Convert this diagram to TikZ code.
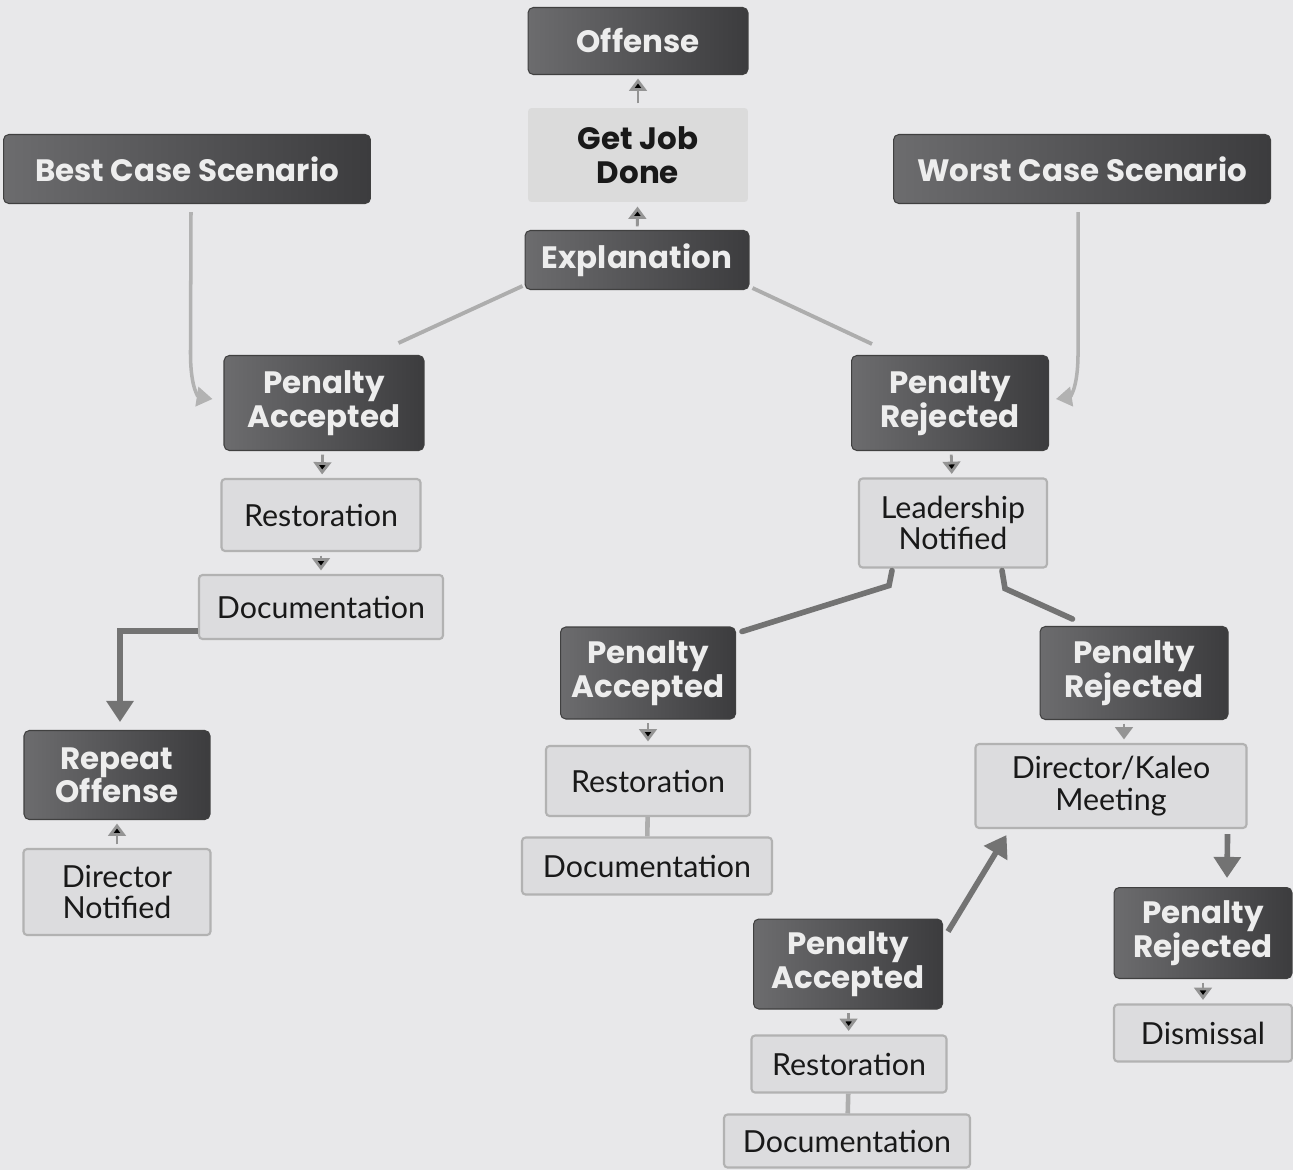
\documentclass[tikz,border=0pt]{standalone}
\usepackage{fontspec}
\newfontfamily\headfont{Poppins}
\newfontfamily\bodyfont{Lato}
\usepackage{tikz}
\usetikzlibrary{arrows.meta,calc}

\definecolor{bg}{RGB}{232,232,234}
\definecolor{darkL}{RGB}{108,108,110}
\definecolor{darkR}{RGB}{60,60,62}
\definecolor{lightbox}{RGB}{220,220,222}

\tikzset{
  dark/.style={rectangle, rounded corners=3pt, left color=darkL, right color=darkR,
    draw=black!75, line width=0.6pt, text=white!93!black, align=center, inner sep=2pt,
    font=\headfont\bfseries\fontsize{17.6}{19}\selectfont},
  light/.style={rectangle, rounded corners=2pt, fill=lightbox, draw=black!30, line width=1.2pt,
    text=black!90, align=center, inner sep=2pt, font=\bodyfont\fontsize{17.3}{17.8}\selectfont},
  tip/.style={draw=black!42, line width=1.6pt, -{Triangle[width=10pt,length=7pt]}, shorten <=2pt, shorten >=2pt},
  thin tip/.style={draw=black!30, line width=2pt, -{Triangle[width=11pt,length=9pt]}},
  bold tip/.style={draw=black!55, line width=3.2pt, -{Triangle[width=15pt,length=12pt]}},
  link/.style={draw=black!32, line width=2.2pt},
  bold link/.style={draw=black!55, line width=3.2pt}
}

\begin{document}
\begin{tikzpicture}[x=0.02cm, y=-0.02cm]
  \fill[bg] (0,0) rectangle (1293,1170);
  \useasboundingbox (0,0) rectangle (1293,1170);

  % top column
  \node[dark, minimum width=4.4cm, minimum height=1.34cm] (off) at (638,41) {Offense};
  \node[light, draw=none, fill=black!14, minimum width=4.4cm, minimum height=1.88cm,
    font=\headfont\bfseries\fontsize{17.6}{19}\selectfont] (job) at (638,155) {Get Job\\Done};
  \node[dark, minimum width=4.48cm, minimum height=1.18cm] (expl) at (637,260) {Explanation};
  \node[dark, minimum width=7.34cm, minimum height=1.38cm] (best) at (187,169) {Best Case Scenario};
  \node[dark, minimum width=7.54cm, minimum height=1.38cm] (worst) at (1082,169) {Worst Case Scenario};

  % best case branch
  \node[dark, minimum width=4.0cm, minimum height=1.9cm] (paL) at (324,403) {Penalty\\Accepted};
  \node[light, minimum width=3.98cm, minimum height=1.44cm] (resL) at (321,515) {Restoration};
  \node[light, minimum width=4.88cm, minimum height=1.28cm] (docL) at (321,607) {Documentation};
  \node[dark, minimum width=3.72cm, minimum height=1.78cm] (rep) at (117,775) {Repeat\\Offense};
  \node[light, minimum width=3.74cm, minimum height=1.72cm] (dirn) at (117,892) {Director\\Notified};

  % worst case branch
  \node[dark, minimum width=3.94cm, minimum height=1.9cm] (prR) at (950,403) {Penalty\\Rejected};
  \node[light, minimum width=3.76cm, minimum height=1.78cm] (lead) at (953,523) {Leadership\\Notified};
  \node[dark, minimum width=3.5cm, minimum height=1.84cm] (paM) at (648,673) {Penalty\\Accepted};
  \node[light, minimum width=4.08cm, minimum height=1.4cm] (resM) at (648,781) {Restoration};
  \node[light, minimum width=5.0cm, minimum height=1.14cm] (docM) at (647,866) {Documentation};
  \node[dark, minimum width=3.76cm, minimum height=1.86cm] (prR2) at (1134,673) {Penalty\\Rejected};
  \node[light, minimum width=5.42cm, minimum height=1.68cm] (dkm) at (1111,786) {Director/Kaleo\\Meeting};
  \node[dark, minimum width=3.56cm, minimum height=1.82cm] (prR3) at (1203,933) {Penalty\\Rejected};
  \node[light, minimum width=3.56cm, minimum height=1.14cm] (dism) at (1203,1033) {Dismissal};
  \node[dark, minimum width=3.78cm, minimum height=1.8cm] (paB) at (848,964) {Penalty\\Accepted};
  \node[light, minimum width=3.9cm, minimum height=1.14cm] (resB) at (849,1064) {Restoration};
  \node[light, minimum width=4.92cm, minimum height=1.06cm] (docB) at (847,1141) {Documentation};

  % connectors
  \path[tip]
    (job) edge (off)
    (expl) edge (job)
    (paL) edge (resL)
    (resL) edge (docL)
    (dirn) edge (rep)
    (prR) edge (lead)
    (paM) edge (resM)
    (prR3) edge (dism)
    (paB) edge (resB)
    ;
  \draw[tip] ([shift={(-10,0)}]prR2.south) -- ([shift={(13,0)}]dkm.north);
  \draw[link] ([shift={(-2,-4)}]expl.south west) -- ([shift={(-26,-12)}]paL.north east);
  \draw[link] ([shift={(3,-2)}]expl.south east) -- ([shift={(21,-11)}]prR.north west);
  \draw[link, line width=2.6pt] (resM) -- (docM);
  \draw[link, line width=2.6pt] (resB) -- (docB);

  \draw[thin tip] ([shift={(4,8)}]best.south) -- ([shift={(-33,-50)}]paL.west)
    .. controls ([shift={(-33,-12)}]paL.west) and ([shift={(-24,-6)}]paL.west) .. ([shift={(-11,-4)}]paL.west);
  \draw[thin tip] ([shift={(-4,8)}]worst.south) -- ([shift={(29,-50)}]prR.east)
    .. controls ([shift={(29,-12)}]prR.east) and ([shift={(20,-6)}]prR.east) .. ([shift={(7,-4)}]prR.east);

  \draw[bold tip] ([shift={(0,-9)}]docL.south west) -| ([shift={(3,-8)}]rep.north);
  \draw[bold link, line cap=round] ([shift={(-61,2)}]lead.south) -- ++(-3,15) -- ([shift={(6,5)}]paM.north east);
  \draw[bold link, line cap=round] ([shift={(49,2)}]lead.south) -- ++(3,18) -- ([shift={(33,-7)}]prR2.north west);
  \draw[bold tip] ([shift={(-20,5)}]dkm.south east) -- ([shift={(24,-9)}]prR3.north);
  \draw[bold tip] ([shift={(5,13)}]paB.north east) -- ([shift={(32,6)}]dkm.south west);
\end{tikzpicture}
\end{document}
